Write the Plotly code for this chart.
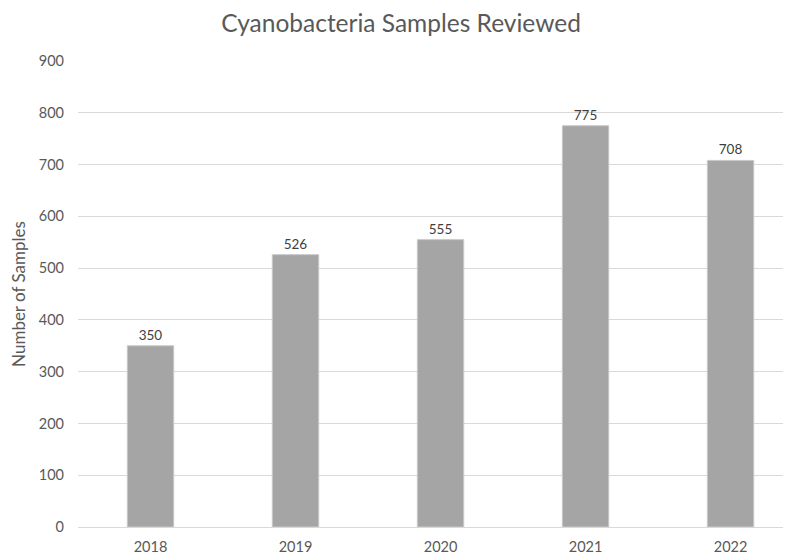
import plotly.graph_objects as go

years = ["2018", "2019", "2020", "2021", "2022"]
samples = [350, 526, 555, 775, 708]

font_family = "Lato, 'Open Sans', sans-serif"
text_color = "#595959"

fig = go.Figure()

fig.add_trace(go.Bar(
    x=years, y=samples,
    marker=dict(color="#A5A5A5", line=dict(color="#C9C9C9", width=1)),
    width=0.32,
    text=samples, textposition="outside", cliponaxis=False,
    textfont=dict(family=font_family, size=13.5, color="#404040"),
))

# the page body adds an 8px offset, so the figure is 8px smaller than the window
fig.update_layout(
    width=783, height=546,
    margin=dict(l=70, r=1, t=53, b=27),
    paper_bgcolor="white", plot_bgcolor="white",
    title=dict(text="Cyanobacteria Samples Reviewed", x=0.502, xanchor="center",
               y=0.972, yanchor="middle",
               font=dict(family=font_family, size=24.5, color=text_color)),
    font=dict(family=font_family, color=text_color),
    showlegend=False,
    xaxis=dict(range=[-0.5, 4.41], showgrid=False, showline=False, automargin=False,
               tickfont=dict(size=14.5, color=text_color), ticklabelstandoff=9),
    yaxis=dict(range=[0, 900], dtick=100, gridcolor="#D9D9D9", gridwidth=1,
               zeroline=True, zerolinecolor="#D9D9D9", zerolinewidth=1,
               tickfont=dict(size=14.5, color=text_color), ticklabelstandoff=13,
               title=dict(text="Number of Samples", standoff=8,
                          font=dict(size=17, color=text_color))),
)

fig.write_html("out.html")
